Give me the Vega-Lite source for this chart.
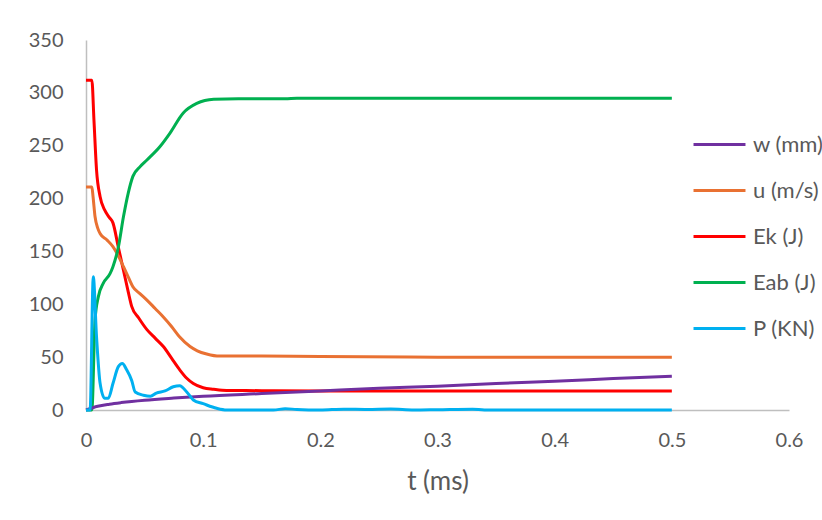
{
  "$schema": "https://vega.github.io/schema/vega-lite/v6.json",
  "width": 703,
  "height": 370,
  "autosize": {"type": "none"},
  "padding": {"left": 86, "top": 40, "right": 33, "bottom": 110},
  "background": "white",
  "config": {
    "view": {"stroke": null},
    "font": "Lato",
    "axis": {"labelFont": "Lato", "titleFont": "Lato", "labelColor": "#595959", "titleColor": "#595959"}
  },
  "data": {
    "values": [
      {"t": 0, "s": "Ek (J)", "v": 312}, {"t": 0.005, "s": "Ek (J)", "v": 312}, {"t": 0.0068, "s": "Ek (J)", "v": 274}, {"t": 0.009, "s": "Ek (J)", "v": 227}, {"t": 0.012, "s": "Ek (J)", "v": 202}, {"t": 0.016, "s": "Ek (J)", "v": 189}, {"t": 0.02, "s": "Ek (J)", "v": 182}, {"t": 0.023, "s": "Ek (J)", "v": 177}, {"t": 0.0276, "s": "Ek (J)", "v": 154}, {"t": 0.032, "s": "Ek (J)", "v": 132}, {"t": 0.036, "s": "Ek (J)", "v": 112}, {"t": 0.039, "s": "Ek (J)", "v": 98}, {"t": 0.045, "s": "Ek (J)", "v": 87}, {"t": 0.052, "s": "Ek (J)", "v": 76}, {"t": 0.059, "s": "Ek (J)", "v": 68}, {"t": 0.066, "s": "Ek (J)", "v": 60}, {"t": 0.073, "s": "Ek (J)", "v": 49}, {"t": 0.08, "s": "Ek (J)", "v": 38}, {"t": 0.086, "s": "Ek (J)", "v": 30}, {"t": 0.0916, "s": "Ek (J)", "v": 25}, {"t": 0.1, "s": "Ek (J)", "v": 21}, {"t": 0.109, "s": "Ek (J)", "v": 19.6}, {"t": 0.12, "s": "Ek (J)", "v": 18.5}, {"t": 0.15, "s": "Ek (J)", "v": 18.3}, {"t": 0.2, "s": "Ek (J)", "v": 18}, {"t": 0.3, "s": "Ek (J)", "v": 18}, {"t": 0.4, "s": "Ek (J)", "v": 18}, {"t": 0.5, "s": "Ek (J)", "v": 18},

      {"t": 0, "s": "u (m/s)", "v": 211}, {"t": 0.005, "s": "u (m/s)", "v": 211}, {"t": 0.006, "s": "u (m/s)", "v": 202}, {"t": 0.0077, "s": "u (m/s)", "v": 183}, {"t": 0.01, "s": "u (m/s)", "v": 172}, {"t": 0.012, "s": "u (m/s)", "v": 167}, {"t": 0.0177, "s": "u (m/s)", "v": 161}, {"t": 0.023, "s": "u (m/s)", "v": 154.5}, {"t": 0.027, "s": "u (m/s)", "v": 147}, {"t": 0.032, "s": "u (m/s)", "v": 135.6}, {"t": 0.036, "s": "u (m/s)", "v": 126}, {"t": 0.04, "s": "u (m/s)", "v": 116.6}, {"t": 0.046, "s": "u (m/s)", "v": 110}, {"t": 0.052, "s": "u (m/s)", "v": 104}, {"t": 0.059, "s": "u (m/s)", "v": 96}, {"t": 0.066, "s": "u (m/s)", "v": 88}, {"t": 0.073, "s": "u (m/s)", "v": 79}, {"t": 0.08, "s": "u (m/s)", "v": 69}, {"t": 0.0888, "s": "u (m/s)", "v": 60}, {"t": 0.095, "s": "u (m/s)", "v": 56}, {"t": 0.103, "s": "u (m/s)", "v": 53}, {"t": 0.114, "s": "u (m/s)", "v": 51}, {"t": 0.15, "s": "u (m/s)", "v": 51}, {"t": 0.2, "s": "u (m/s)", "v": 50.5}, {"t": 0.3, "s": "u (m/s)", "v": 50}, {"t": 0.4, "s": "u (m/s)", "v": 50}, {"t": 0.5, "s": "u (m/s)", "v": 50},

      {"t": 0, "s": "Eab (J)", "v": 0}, {"t": 0.005, "s": "Eab (J)", "v": 0}, {"t": 0.0077, "s": "Eab (J)", "v": 85}, {"t": 0.0105, "s": "Eab (J)", "v": 107}, {"t": 0.0148, "s": "Eab (J)", "v": 120}, {"t": 0.0205, "s": "Eab (J)", "v": 129}, {"t": 0.023, "s": "Eab (J)", "v": 135.6}, {"t": 0.0276, "s": "Eab (J)", "v": 154}, {"t": 0.032, "s": "Eab (J)", "v": 183}, {"t": 0.036, "s": "Eab (J)", "v": 205}, {"t": 0.04, "s": "Eab (J)", "v": 221}, {"t": 0.046, "s": "Eab (J)", "v": 230}, {"t": 0.052, "s": "Eab (J)", "v": 236.5}, {"t": 0.063, "s": "Eab (J)", "v": 249}, {"t": 0.0717, "s": "Eab (J)", "v": 262}, {"t": 0.083, "s": "Eab (J)", "v": 281}, {"t": 0.0945, "s": "Eab (J)", "v": 290}, {"t": 0.109, "s": "Eab (J)", "v": 294}, {"t": 0.13, "s": "Eab (J)", "v": 294.5}, {"t": 0.17, "s": "Eab (J)", "v": 294.5}, {"t": 0.18, "s": "Eab (J)", "v": 295}, {"t": 0.3, "s": "Eab (J)", "v": 295}, {"t": 0.5, "s": "Eab (J)", "v": 295},

      {"t": 0, "s": "w (mm)", "v": 0}, {"t": 0.01, "s": "w (mm)", "v": 3.5}, {"t": 0.02, "s": "w (mm)", "v": 5.5}, {"t": 0.03, "s": "w (mm)", "v": 7}, {"t": 0.05, "s": "w (mm)", "v": 9.3}, {"t": 0.075, "s": "w (mm)", "v": 11.3}, {"t": 0.1, "s": "w (mm)", "v": 13}, {"t": 0.15, "s": "w (mm)", "v": 15.5}, {"t": 0.2, "s": "w (mm)", "v": 18}, {"t": 0.25, "s": "w (mm)", "v": 20.5}, {"t": 0.3, "s": "w (mm)", "v": 22.5}, {"t": 0.35, "s": "w (mm)", "v": 25}, {"t": 0.4, "s": "w (mm)", "v": 27.3}, {"t": 0.45, "s": "w (mm)", "v": 29.7}, {"t": 0.5, "s": "w (mm)", "v": 32},

      {"t": 0, "s": "P (KN)", "v": 0}, {"t": 0.0035, "s": "P (KN)", "v": 0}, {"t": 0.0062, "s": "P (KN)", "v": 126}, {"t": 0.009, "s": "P (KN)", "v": 69}, {"t": 0.012, "s": "P (KN)", "v": 25.5}, {"t": 0.016, "s": "P (KN)", "v": 11}, {"t": 0.019, "s": "P (KN)", "v": 11}, {"t": 0.023, "s": "P (KN)", "v": 25}, {"t": 0.0276, "s": "P (KN)", "v": 41}, {"t": 0.031, "s": "P (KN)", "v": 44}, {"t": 0.0347, "s": "P (KN)", "v": 38}, {"t": 0.039, "s": "P (KN)", "v": 28}, {"t": 0.042, "s": "P (KN)", "v": 17}, {"t": 0.049, "s": "P (KN)", "v": 14}, {"t": 0.055, "s": "P (KN)", "v": 13}, {"t": 0.06, "s": "P (KN)", "v": 16}, {"t": 0.0674, "s": "P (KN)", "v": 18}, {"t": 0.0745, "s": "P (KN)", "v": 22}, {"t": 0.08, "s": "P (KN)", "v": 23}, {"t": 0.086, "s": "P (KN)", "v": 17}, {"t": 0.0916, "s": "P (KN)", "v": 9.5}, {"t": 0.1, "s": "P (KN)", "v": 6}, {"t": 0.1115, "s": "P (KN)", "v": 1.6}, {"t": 0.12, "s": "P (KN)", "v": 0}, {"t": 0.16, "s": "P (KN)", "v": 0}, {"t": 0.17, "s": "P (KN)", "v": 1.2}, {"t": 0.18, "s": "P (KN)", "v": 0.5}, {"t": 0.2, "s": "P (KN)", "v": 0}, {"t": 0.22, "s": "P (KN)", "v": 0.8}, {"t": 0.24, "s": "P (KN)", "v": 0.5}, {"t": 0.26, "s": "P (KN)", "v": 0.9}, {"t": 0.28, "s": "P (KN)", "v": 0}, {"t": 0.3, "s": "P (KN)", "v": 0.3}, {"t": 0.33, "s": "P (KN)", "v": 0.8}, {"t": 0.34, "s": "P (KN)", "v": 0}, {"t": 0.4, "s": "P (KN)", "v": 0}, {"t": 0.5, "s": "P (KN)", "v": 0}
    ]
  },
  "mark": {"type": "line", "strokeWidth": 3, "interpolate": "monotone"},
  "encoding": {
    "x": {
      "field": "t", "type": "quantitative",
      "scale": {"domain": [0, 0.6], "nice": false},
      "axis": {
        "title": "t (ms)", "titleFontSize": 26, "titleFontWeight": "normal", "titlePadding": 18,
        "values": [0, 0.1, 0.2, 0.3, 0.4, 0.5, 0.6], "format": "~g",
        "labelFontSize": 20, "labelPadding": 20, "labelFlush": false, "ticks": false, "grid": false,
        "domainColor": "#BFBFBF", "domainWidth": 1.5
      }
    },
    "y": {
      "field": "v", "type": "quantitative",
      "scale": {"domain": [0, 350], "nice": false},
      "axis": {
        "title": null,
        "values": [0, 50, 100, 150, 200, 250, 300, 350],
        "labelFontSize": 20, "labelPadding": 23, "labelFlush": false, "ticks": false, "grid": false,
        "domainColor": "#BFBFBF", "domainWidth": 1.5
      }
    },
    "color": {
      "field": "s", "type": "nominal",
      "scale": {
        "domain": ["w (mm)", "u (m/s)", "Ek (J)", "Eab (J)", "P (KN)"],
        "range": ["#7030A0", "#E97132", "#FF0000", "#00B050", "#00B0F0"]
      },
      "legend": {
        "title": null, "orient": "none", "legendX": 606, "legendY": 77,
        "symbolType": "stroke", "symbolSize": 2700, "symbolStrokeWidth": 3,
        "labelFontSize": 22, "labelColor": "#595959", "labelOffset": 6,
        "rowPadding": 7
      }
    }
  }
}
